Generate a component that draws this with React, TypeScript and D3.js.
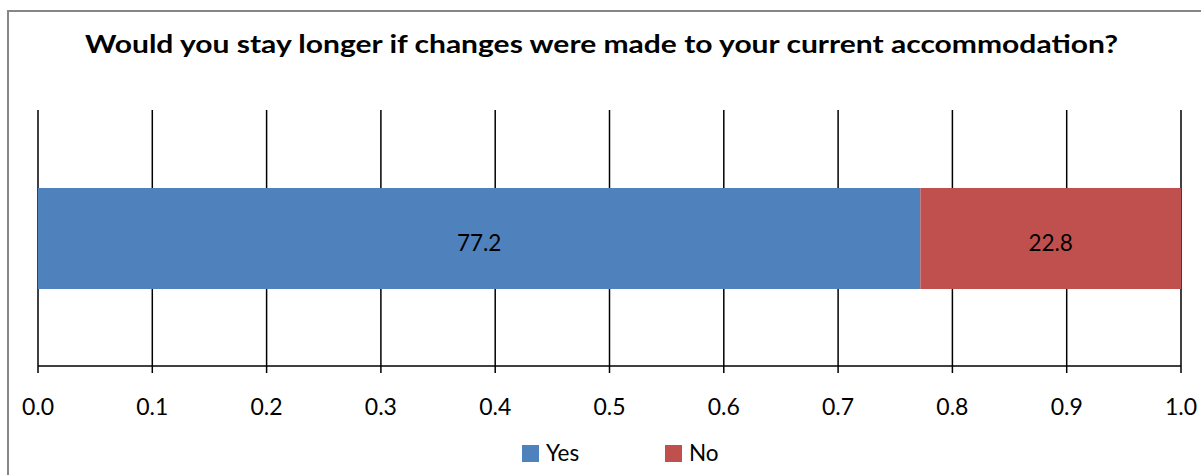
import React from "react";
import * as d3 from "d3";

const title = "Would you stay longer if changes were made to your current accommodation?";
const categories = ["Yes", "No"];
const values = [77.2, 22.8];
const colors = ["#4F81BD", "#C0504D"];
const tickValues = [0, 0.1, 0.2, 0.3, 0.4, 0.5, 0.6, 0.7, 0.8, 0.9, 1.0];

const W = 1201;
const H = 475;
const FONT = "Lato, 'Open Sans', 'Liberation Sans', sans-serif";

export default function App() {
  const x = d3.scaleLinear().domain([0, 1]).range([38, 1181]);
  const total = d3.sum(values);
  const stack = d3.stack<any>().keys(categories)([
    Object.fromEntries(categories.map((c, i) => [c, values[i] / total])),
  ]);
  const axisY = 366;
  const barY = 188;
  const barH = 101;

  return (
    <div style={{ position: "fixed", left: 0, top: 0 }}>
      <svg width={W} height={H} style={{ display: "block", background: "#fff" }}>
        <rect x={8} y={11} width={W + 20} height={H + 20} fill="#fff" stroke="#868686" strokeWidth={2} />
        <text
          x={601.5}
          y={53}
          textAnchor="middle"
          fontFamily={FONT}
          fontWeight="bold"
          fontSize={25.5}
          textLength={1033}
          lengthAdjust="spacingAndGlyphs"
          fill="#000"
        >
          {title}
        </text>
        {tickValues.map((t) => (
          <line key={"g" + t} x1={x(t)} x2={x(t)} y1={110} y2={axisY} stroke="#000" strokeWidth={1.5} />
        ))}
        {stack.map((s, i) => (
          <rect
            key={categories[i]}
            x={x(s[0][0])}
            y={barY}
            width={x(s[0][1]) - x(s[0][0])}
            height={barH}
            fill={colors[i]}
          />
        ))}
        {stack.map((s, i) => (
          <text
            key={"l" + categories[i]}
            x={(x(s[0][0]) + x(s[0][1])) / 2}
            y={251}
            textAnchor="middle"
            fontFamily={FONT}
            fontSize={22.5}
            fill="#000"
          >
            {values[i].toFixed(1)}
          </text>
        ))}
        <line x1={x(0)} x2={x(1)} y1={axisY} y2={axisY} stroke="#000" strokeWidth={1.5} />
        {tickValues.map((t) => (
          <g key={"t" + t}>
            <line x1={x(t)} x2={x(t)} y1={axisY} y2={axisY + 7} stroke="#000" strokeWidth={1.5} />
            <text x={x(t)} y={415} textAnchor="middle" fontFamily={FONT} fontSize={23} fill="#000">
              {t.toFixed(1)}
            </text>
          </g>
        ))}
        {categories.map((c, i) => {
          const lx = [522, 665][i];
          return (
            <g key={"lg" + c}>
              <rect x={lx} y={445} width={17} height={17} fill={colors[i]} />
              <text x={lx + 24} y={461} fontFamily={FONT} fontSize={22.5} fill="#000">
                {c}
              </text>
            </g>
          );
        })}
      </svg>
    </div>
  );
}
